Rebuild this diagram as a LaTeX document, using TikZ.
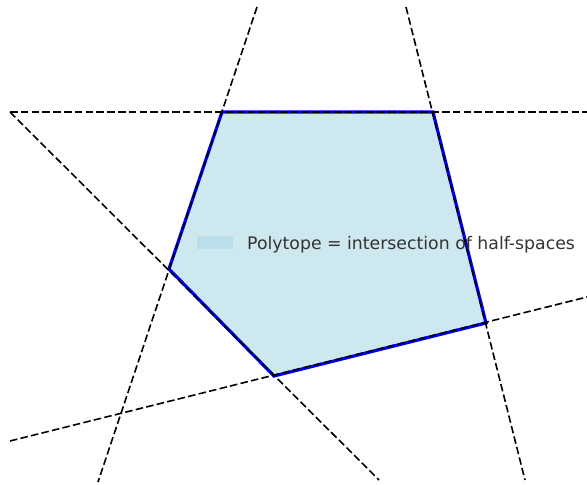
\documentclass[tikz,border=0pt]{standalone}
\usepackage{fontspec}
\setmainfont{DejaVu Sans}
\definecolor{fillblue}{HTML}{CEE8F0}
\definecolor{patchblue}{HTML}{BADEEA}
\definecolor{edgeblue}{HTML}{0000FF}
\begin{document}
\begin{tikzpicture}[x=1pt,y=-1pt,
  halfline/.style={black,line width=1.6pt,dash pattern=on 7.5pt off 3.3pt},
  polyedge/.style={edgeblue,line width=3.2pt,line join=miter},
  legtext/.style={text=black!80,font=\fontsize{17.3}{20}\selectfont,inner sep=0pt,anchor=base west}]
\useasboundingbox (0,0) rectangle (587,485);
% vertices
\coordinate (A) at (222,112);
\coordinate (B) at (433,112);
\coordinate (C) at (486,323);
\coordinate (D) at (274,376);
\coordinate (E) at (169,269);
% free ends of the half-space boundaries
\coordinate (h1a) at (10,112);  \coordinate (h1b) at (587,112);
\coordinate (h2a) at (257,7);   \coordinate (h2b) at (98,482);
\coordinate (h3a) at (406,7);   \coordinate (h3b) at (525,480);
\coordinate (h4a) at (10,112);  \coordinate (h4b) at (379,480);
\coordinate (h5a) at (10,441);  \coordinate (h5b) at (587,297);
% polytope
\fill[fillblue] (A) -- (B) -- (C) -- (D) -- (E) -- cycle;
\draw[polyedge] (A) -- (B) -- (C) -- (D) -- (E) -- cycle;
% half-space lines
\draw[halfline] (h1a) -- (h1b);
\draw[halfline] (h2a) -- (h2b);
\draw[halfline] (h3a) -- (h3b);
\draw[halfline] (h4a) -- (h4b);
\draw[halfline] (h5a) -- (h5b);
% legend
\node[fill=patchblue,minimum width=36pt,minimum height=13pt,inner sep=0pt,anchor=north west] (patch) at (197,236) {};
\node[legtext] (label) at (247,249) {Polytope = intersection of half-spaces};
\end{tikzpicture}
\end{document}
